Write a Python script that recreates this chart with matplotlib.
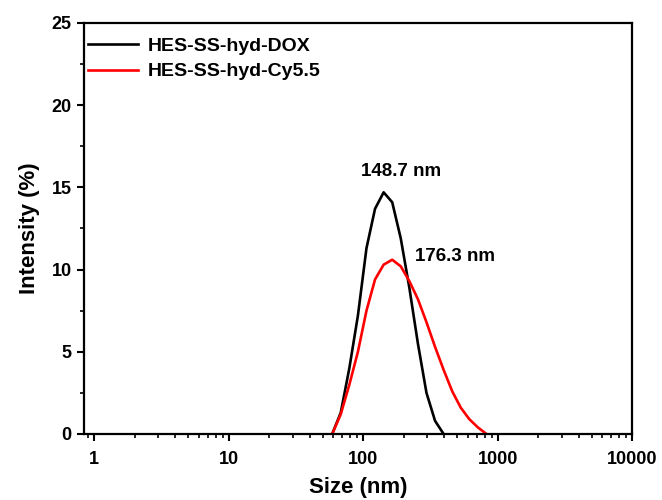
import numpy as np
import matplotlib.pyplot as plt
from matplotlib.ticker import LogLocator, NullFormatter, FixedLocator, MultipleLocator

plt.rcParams['font.family'] = ['Liberation Sans', 'DejaVu Sans']
plt.rcParams['font.weight'] = 'bold'

# size bins (nm) and intensity (%)
size_dox = [58.77, 68.06, 78.82, 91.28, 105.7, 122.4, 141.8, 164.2, 190.1, 220.2, 255.0, 295.3, 342.0, 396.1]
int_dox = [0, 1.3, 4.0, 7.2, 11.3, 13.7, 14.7, 14.1, 11.9, 8.9, 5.5, 2.5, 0.8, 0]

size_cy = [58.77, 68.06, 78.82, 91.28, 105.7, 122.4, 141.8, 164.2, 190.1, 220.2, 255.0, 295.3,
           342.0, 396.1, 458.7, 531.2, 615.1, 712.4, 825.0]
int_cy = [0, 1.2, 3.0, 5.0, 7.5, 9.4, 10.3, 10.6, 10.2, 9.3, 8.2, 6.8, 5.3, 3.9, 2.6, 1.6, 0.9, 0.4, 0]

labels = ["HES-SS-hyd-DOX", "HES-SS-hyd-Cy5.5"]
peaks = ["148.7 nm", "176.3 nm"]

fig = plt.figure(figsize=(6.62, 5), dpi=100)
ax = fig.add_axes([0.127, 0.132, 0.828, 0.822])

ax.plot(size_dox, int_dox, color="black", lw=1.9, label=labels[0])
ax.plot(size_cy, int_cy, color="red", lw=1.9, label=labels[1])

ax.set_xscale("log")
ax.set_xlim(0.84, 10000)
ax.set_ylim(0, 25)
ax.xaxis.set_major_locator(FixedLocator([1, 10, 100, 1000, 10000]))
ax.set_xticklabels(["1", "10", "100", "1000", "10000"])
ax.xaxis.set_minor_locator(LogLocator(base=10, subs=np.arange(2, 10)))
ax.xaxis.set_minor_formatter(NullFormatter())
ax.yaxis.set_major_locator(MultipleLocator(5))
ax.yaxis.set_minor_locator(MultipleLocator(2.5))

ax.tick_params(which="major", direction="out", length=5, width=1.5, labelsize=13, pad=4)
ax.tick_params(axis="x", which="major", pad=7)
ax.tick_params(which="minor", direction="out", length=3, width=1.2)
for s in ax.spines.values():
    s.set_linewidth(1.6)

ax.set_xlabel("Size (nm)", fontsize=16, fontweight="bold", labelpad=7)
ax.set_ylabel("Intensity (%)", fontsize=16, fontweight="bold", labelpad=8)

ax.text(190, 15.95, peaks[0], ha="center", va="center", fontsize=13.5, fontweight="bold")
ax.text(480, 10.8, peaks[1], ha="center", va="center", fontsize=13.5, fontweight="bold")

ax.legend(loc="upper left", bbox_to_anchor=(0.007, 0.965), frameon=False, fontsize=14,
          handlelength=2.6, handletextpad=0.5, borderaxespad=0, borderpad=0, labelspacing=0.4)

fig.savefig("out.png", dpi=100)
